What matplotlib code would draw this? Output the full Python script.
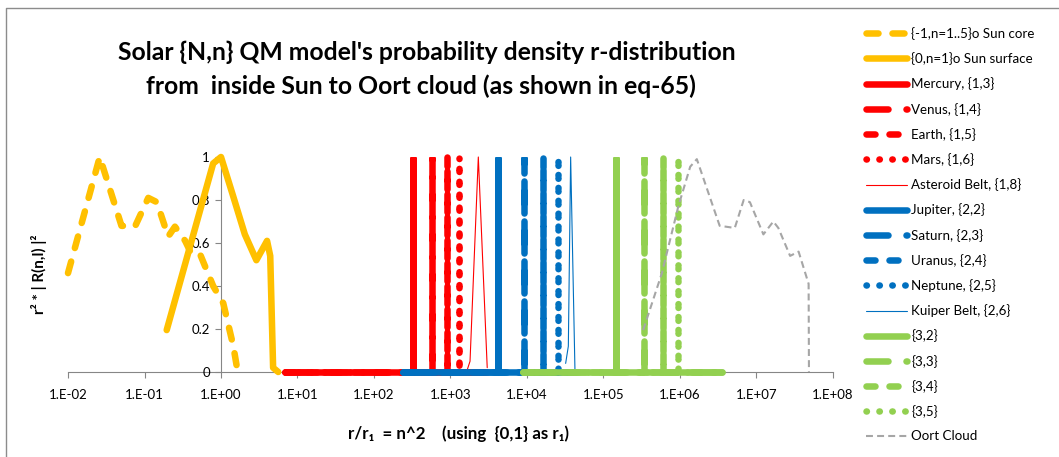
import matplotlib
matplotlib.use("Agg")
import matplotlib.pyplot as plt
from matplotlib.lines import Line2D

plt.rcParams['font.family'] = ['Lato', 'DejaVu Sans']
plt.rcParams['lines.scale_dashes'] = False

# ---------------- data ----------------
sun_core_x = [0.01, 0.026, 0.05, 0.075, 0.112, 0.145, 0.204, 0.25, 0.34, 0.41,
              0.53, 0.79, 1.07, 1.45, 1.6, 2.05]
sun_core_y = [0.46, 1.0, 0.68, 0.676, 0.81, 0.79, 0.63, 0.676, 0.61, 0.55,
              0.55, 0.40, 0.32, 0.12, 0.03, 0.01]

sun_surf_x = [0.195, 0.79, 1.0, 1.45, 2.05, 2.9, 4.0, 4.4, 4.8, 5.6]
sun_surf_y = [0.195, 0.97, 1.0, 0.815, 0.64, 0.52, 0.61, 0.54, 0.02, 0.0]

# planet peak positions (r/r1) and peak height
red_planets = {"Mercury, {1,3}": 320, "Venus, {1,4}": 578,
               "Earth, {1,5}": 908, "Mars, {1,6}": 1280}
blue_planets = {"Jupiter, {2,2}": 4140, "Saturn, {2,3}": 9060,
                "Uranus, {2,4}": 16400, "Neptune, {2,5}": 25400}
green_states = {"{3,2}": 1.46e5, "{3,3}": 3.38e5, "{3,4}": 6.0e5, "{3,5}": 9.5e5}
peak_height = 1.0

# zero baselines of each group (start, end)
red_range = [6.9, 3000]
blue_range = [240, 42000]
green_range = [8900, 3.5e6]

asteroid_x = [1620, 1800, 2310, 3020]
asteroid_y = [0.0, 0.05, 1.0, 0.02]

kuiper_x = [32000, 34700, 37200, 42400]
kuiper_y = [0.04, 0.12, 1.0, 0.0]

oort_x = [3.3e5, 5.8e5, 9.5e5, 1.36e6, 1.66e6, 3.3e6, 5.2e6, 6.8e6, 8.2e6,
          1.23e7, 1.66e7, 1.93e7, 2.75e7, 3.55e7, 4.8e7, 4.85e7]
oort_y = [0.195, 0.46, 0.77, 0.955, 0.99, 0.68, 0.67, 0.80, 0.79,
          0.64, 0.70, 0.67, 0.54, 0.56, 0.41, 0.0]

xtick_labels = ["1.E-02", "1.E-01", "1.E+00", "1.E+01", "1.E+02", "1.E+03",
                "1.E+04", "1.E+05", "1.E+06", "1.E+07", "1.E+08"]
ytick_values = [0, 0.2, 0.4, 0.6, 0.8, 1]
ytick_labels = ["0", "0.2", "0.4", "0.6", "0.8", "1"]

# ---------------- styles ----------------
YEL, RED, BLUE, GREEN, GRAY = "#FFC000", "#FF0000", "#0070C0", "#92D050", "#A6A6A6"
LW = 4.7
PX = 1 / 1.389  # px -> pt
styles = {
    "solid": None,
    "longdash": (0, (22 * PX, 18 * PX)),
    "dash": (0, (9 * PX, 14 * PX)),
    "dot": (0, (0.3, 12.5 * PX)),
}
group_styles = ["solid", "longdash", "dash", "dot"]

W, H = 1059, 457
fig = plt.figure(figsize=(W / 100, H / 100), dpi=100)
ax = fig.add_axes([68 / W, 1 - 372 / H, (833 - 68) / W, (372 - 157) / H])
ax.set_xscale("log")
ax.set_xlim(1e-2, 1e8)
ax.set_ylim(0, 1)

handles = []


def add_line(x, y, color, lw, style, label, join="round"):
    kw = dict(color=color, lw=lw, clip_on=False, label=label,
              solid_capstyle="round", dash_capstyle="round",
              solid_joinstyle=join, dash_joinstyle=join)
    if style is not None:
        kw["linestyle"] = style
    ln, = ax.plot(x, y, **kw)
    handles.append(ln)
    return ln


add_line(sun_core_x, sun_core_y, YEL, LW, (0, (12 * PX, 14 * PX)), "{-1,n=1..5}o Sun core")
add_line(sun_surf_x, sun_surf_y, YEL, LW, None, "{0,n=1}o Sun surface")


def planet_series(pos, rng):
    return [rng[0], pos, pos, pos, rng[1]], [0, 0, peak_height, 0, 0]


for (name, pos), st in zip(red_planets.items(), group_styles):
    xs, ys = planet_series(pos, red_range)
    add_line(xs, ys, RED, LW, styles[st], name, join="bevel")
add_line(asteroid_x, asteroid_y, RED, 0.8, None, "Asteroid Belt, {1,8}")

for (name, pos), st in zip(blue_planets.items(), group_styles):
    xs, ys = planet_series(pos, blue_range)
    add_line(xs, ys, BLUE, LW, styles[st], name, join="bevel")
add_line(kuiper_x, kuiper_y, BLUE, 0.8, None, "Kuiper Belt, {2,6}")

for (name, pos), st in zip(green_states.items(), group_styles):
    xs, ys = planet_series(pos, green_range)
    add_line(xs, ys, GREEN, LW, styles[st], name, join="bevel")

oort, = ax.plot(oort_x, oort_y, color=GRAY, lw=1.5, linestyle=(0, (5, 3)),
                dash_capstyle="butt", clip_on=False, label="Oort Cloud")
handles.append(oort)

# ---------------- axes ----------------
AXC = "#868686"
for s in ["top", "right"]:
    ax.spines[s].set_visible(False)
ax.spines["bottom"].set_color(AXC)
ax.spines["left"].set_color(AXC)
ax.spines["left"].set_position(("data", 1))
ax.spines["bottom"].set_zorder(0.5)
ax.spines["left"].set_zorder(0.5)
ax.set_xticks([10.0 ** k for k in range(-2, 9)])
ax.set_xticklabels(xtick_labels)
ax.xaxis.set_minor_locator(matplotlib.ticker.NullLocator())
ax.set_yticks(ytick_values)
ax.set_yticklabels(ytick_labels)
ax.tick_params(axis="both", direction="out", length=4, color=AXC,
               labelsize=9.5, labelcolor="black", pad=4)
ax.tick_params(axis="x", pad=8)
ax.patch.set_visible(False)

# ---------------- text ----------------
fig.text(427 / W, 1 - 52 / H, "Solar {N,n} QM model's probability density r-distribution",
         ha="center", va="center", fontsize=17.8, fontweight="bold")
fig.text(421 / W, 1 - 86 / H, "from  inside Sun to Oort cloud (as shown in eq-65)",
         ha="center", va="center", fontsize=17.8, fontweight="bold")
fig.text(39 / W, 1 - 274 / H, "r² * | R(n,l) |²", rotation=90, ha="center", va="center",
         fontsize=11, fontweight="bold")
fig.text(458 / W, 1 - 434 / H, "r/r₁  = n^2    (using  {0,1} as r₁)",
         ha="center", va="center", fontsize=12.2, fontweight="bold")

# ---------------- legend ----------------
leg = fig.legend(handles=handles, loc="upper left",
                 bbox_to_anchor=(866 / W, 1 - 27 / H), frameon=False,
                 fontsize=9.6, handlelength=3.1, handletextpad=0.3,
                 labelspacing=0.92, borderpad=0, borderaxespad=0)

# ---------------- chart frame ----------------
fig.add_artist(Line2D([6 / W, 6 / W, 1.0], [0, 1 - 8 / H, 1 - 8 / H],
                      transform=fig.transFigure, color="#8C8C8C", lw=1))

fig.savefig("out.png", dpi=100)
